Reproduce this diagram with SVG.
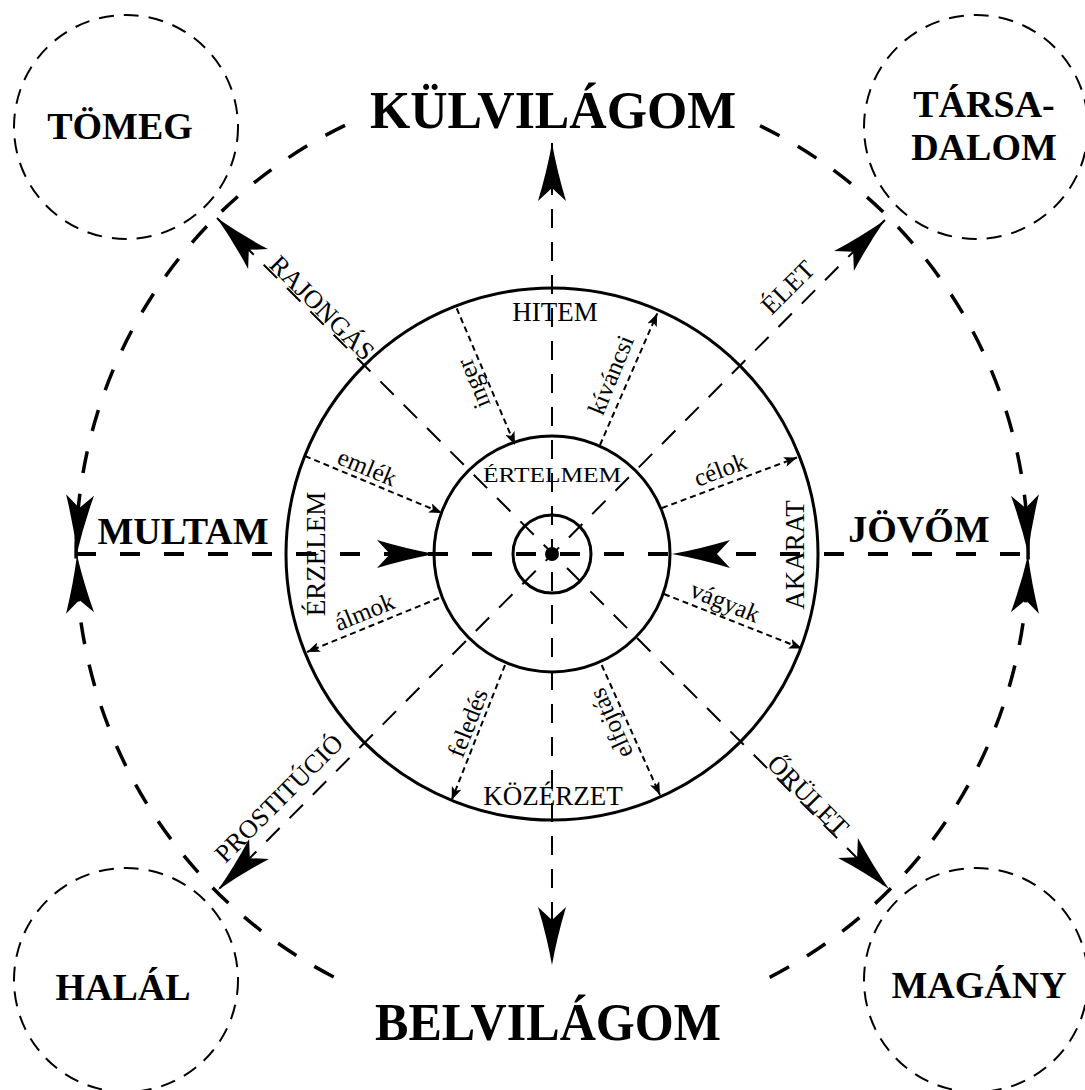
<svg xmlns="http://www.w3.org/2000/svg" width="1085" height="1090" viewBox="0 0 1085 1090">
<style>
  text { font-family: "Liberation Serif", "Times New Roman", serif; fill: #000; }
  .big { font-size: 52px; font-weight: bold; text-anchor: middle; }
  .node { font-size: 38px; font-weight: bold; text-anchor: middle; }
  .mid { font-size: 27px; text-anchor: middle; }
  .diag { font-size: 26px; text-anchor: middle; }
  .small { font-size: 25px; text-anchor: middle; }
  .ring { fill: none; stroke: #000; stroke-width: 3; }
  .smallc { fill: none; stroke: #000; stroke-width: 2; stroke-dasharray: 15 10; }
  .bigc { fill: none; stroke: #000; stroke-width: 3.5; stroke-dasharray: 22 21; }
  .axish { fill: none; stroke: #000; stroke-width: 4; stroke-dasharray: 20 24; }
  .axis { fill: none; stroke: #000; stroke-width: 2; stroke-dasharray: 19 14; }
  .dot { fill: none; stroke: #000; stroke-width: 2; stroke-dasharray: 6 4; marker-end: url(#sa); }
</style>
<defs>
  <path id="ah" d="M0,0 Q-28,-5 -58,-14 L-45,0 L-58,14 Q-28,5 0,0 Z" fill="#000"/>
  <marker id="sa" markerUnits="userSpaceOnUse" markerWidth="14" markerHeight="10" refX="13" refY="5" orient="auto">
    <path d="M0,0 L13,5 L0,10 L3,5 Z" fill="#000"/>
  </marker>
</defs>
<rect width="1085" height="1090" fill="#fff"/>

<!-- outer world ring (two arcs, open behind the top and bottom titles) -->
<g id="world-ring">
  <path class="bigc" d="M345,125.4 A476,476 0 0 0 345,982.6"/>
  <path class="bigc" d="M760,125.8 A476,476 0 0 1 760,982.2"/>
</g>

<!-- corner nodes -->
<g id="tomeg">
  <circle class="smallc" cx="126" cy="127" r="112"/>
  <text class="node" x="120" y="139">TÖMEG</text>
</g>
<g id="tarsadalom">
  <circle class="smallc" cx="976" cy="127" r="112"/>
  <text class="node" x="984" y="117">TÁRSA-</text>
  <text class="node" x="984" y="160">DALOM</text>
</g>
<g id="halal">
  <circle class="smallc" cx="126" cy="980" r="112"/>
  <text class="node" x="123" y="1000">HALÁL</text>
</g>
<g id="magany">
  <circle class="smallc" cx="976" cy="980" r="112"/>
  <text class="node" x="979" y="998">MAGÁNY</text>
</g>

<!-- concentric self -->
<g id="self">
  <circle class="ring" cx="552" cy="554" r="266"/>
  <circle class="ring" cx="552" cy="554" r="118"/>
  <circle class="ring" cx="552" cy="554" r="39"/>
  <circle cx="552" cy="554" r="7" fill="#000"/>
  <text class="mid" x="555" y="321">HITEM</text>
  <text class="mid" x="553" y="805">KÖZÉRZET</text>
  <text x="552" y="482" font-size="20" text-anchor="middle" textLength="138" lengthAdjust="spacingAndGlyphs">ÉRTELMEM</text>
  <text class="mid" transform="translate(325,554) rotate(-90)">ÉRZELEM</text>
  <text class="mid" transform="translate(804,555) rotate(-90)">AKARAT</text>
</g>

<!-- axis labels -->
<g id="kulvilagom"><text class="big" x="553" y="128" textLength="366" lengthAdjust="spacingAndGlyphs">KÜLVILÁGOM</text></g>
<g id="belvilagom"><text class="big" x="548" y="1040" textLength="346" lengthAdjust="spacingAndGlyphs">BELVILÁGOM</text></g>
<g id="multam"><text class="node" x="183" y="544">MULTAM</text></g>
<g id="jovom"><text class="node" x="919" y="542">JÖVŐM</text></g>

<!-- connectors -->
<g id="connectors">
  <line class="axish" x1="76" y1="554" x2="1028" y2="554"/>
  <line class="axis" x1="552" y1="143" x2="552" y2="965"/>
  <line class="axis" x1="217" y1="218" x2="888" y2="889"/>
  <line class="axis" x1="885" y1="220" x2="218" y2="890"/>

  <use href="#ah" transform="translate(552,143) rotate(-90)"/>
  <use href="#ah" transform="translate(552,965) rotate(90)"/>
  <use href="#ah" transform="translate(435,554)"/>
  <use href="#ah" transform="translate(672,554) rotate(180)"/>
  <use href="#ah" transform="translate(77,553) rotate(93)"/>
  <use href="#ah" transform="translate(77,555) rotate(-93)"/>
  <use href="#ah" transform="translate(1028,553) rotate(87)"/>
  <use href="#ah" transform="translate(1028,555) rotate(-87)"/>
  <use href="#ah" transform="translate(217,218) rotate(-135)"/>
  <use href="#ah" transform="translate(885,220) rotate(-45)"/>
  <use href="#ah" transform="translate(218,890) rotate(135)"/>
  <use href="#ah" transform="translate(889,889) rotate(45)"/>

  <text class="diag" transform="translate(316,314) rotate(45)">RAJONGÁS</text>
  <text class="diag" transform="translate(794,293.5) rotate(-45)">ÉLET</text>
  <text class="diag" transform="translate(285,804.5) rotate(-45)">PROSTITÚCIÓ</text>
  <text class="diag" transform="translate(802,801.5) rotate(45)">ŐRÜLET</text>

  <line class="dot" x1="456.7" y1="308.3" x2="515" y2="445"/>
  <line class="dot" x1="600" y1="445" x2="657.3" y2="313.3"/>
  <line class="dot" x1="305" y1="456" x2="442" y2="513"/>
  <line class="dot" x1="662" y1="508" x2="797" y2="457.5"/>
  <line class="dot" x1="439" y1="598" x2="307" y2="652"/>
  <line class="dot" x1="664" y1="594" x2="802" y2="648.5"/>
  <line class="dot" x1="505" y1="665" x2="451.7" y2="800"/>
  <line class="dot" x1="601.7" y1="665" x2="660" y2="795"/>

  <text class="small" transform="translate(481,380.5) rotate(-112.6)">inger</text>
  <text class="small" transform="translate(618.5,378) rotate(-67.6)">kíváncsi</text>
  <text class="small" transform="translate(364,475) rotate(22.6)">emlék</text>
  <text class="small" transform="translate(723,477.5) rotate(-20.5)">célok</text>
  <text class="small" transform="translate(367.5,619.5) rotate(-22)">álmok</text>
  <text class="small" transform="translate(722,609.5) rotate(22)">vágyak</text>
  <text class="small" transform="translate(475.5,726) rotate(-68.6)">feledés</text>
  <text class="small" transform="translate(618.5,720) rotate(-114)">elfojtás</text>
</g>
</svg>
